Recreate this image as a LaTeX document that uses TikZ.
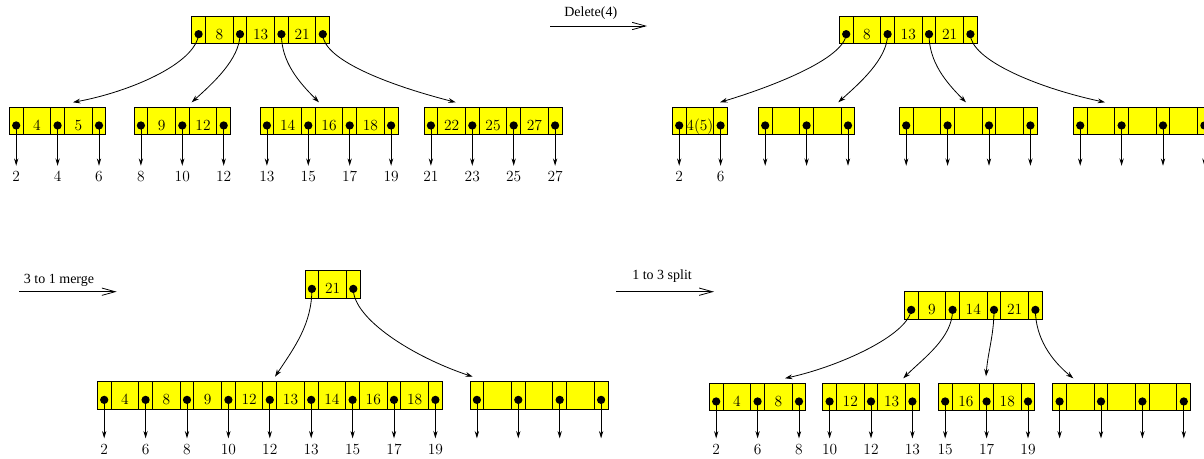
\documentclass[tikz,border=0pt]{standalone}
\usepackage{fontspec}
\newfontfamily\opfont{Liberation Serif}
\usepackage{tikz}
\usetikzlibrary{arrows.meta,positioning,calc}
\definecolor{bpyellow}{RGB}{255,255,0}
\def\ptrw{10.35pt}
\def\keyw{20.7pt}
\def\blank{}
\newcommand{\keyfont}{\fontsize{11.6}{13}\selectfont}
\tikzset{
  frame/.style={anchor=north west, inner sep=0pt, outer sep=0pt, minimum height=20.5pt},
  ptrcell/.style={draw, fill=bpyellow, line width=0.7pt, inner sep=0pt, outer sep=0pt, minimum width=\ptrw, minimum height=20.5pt},
  keycell/.style={ptrcell, minimum width=\keyw, font=\keyfont, text height=14.2pt, text depth=0pt},
  treearrow/.style={-{Stealth[length=5.5pt,width=3.6pt]}, line width=0.6pt},
  ptrarrow/.style={-{Stealth[length=5.5pt,width=3.2pt]}, line width=0.6pt},
  oparrow/.style={-{Straight Barb[length=10pt,width=5.5pt]}, line width=0.6pt},
  oplabel/.style={font=\opfont\fontsize{10.5}{12}\selectfont, inner sep=0pt, text depth=0pt},
  leaflabel/.style={anchor=north, inner sep=0pt, font=\keyfont}
}
% one B+ tree node: name, top left corner, number of keys, keys
\newcommand{\btnode}[4]{%
  \node[frame, minimum width={(#3+1)*\ptrw+#3*\keyw}] (#1) at #2 {};
  \node[ptrcell, anchor=north west] (#1-p0) at (#1.north west) {};
  \foreach \k [count=\i, remember=\i as \j (initially 0)] in {#4} {
    \node[keycell, right=0pt of #1-p\j] (#1-k\i) {\k};
    \node[ptrcell, right=0pt of #1-k\i] (#1-p\i) {};
  }
  \foreach \i in {0,...,#3}
    \fill ($(#1-p\i.center)+(0,4.5)$) coordinate (#1-d\i) circle (3.1pt);
}
% down pointers of a leaf: name, number of keys, length
\newcommand{\leafptrs}[3]{%
  \foreach \i in {0,...,#2} {
    \coordinate (#1-e\i) at ($(#1-d\i)+(0,#3)$);
    \draw[ptrarrow] (#1-d\i) -- (#1-e\i);
  }
}
\newcommand{\leaflabels}[2]{%
  \foreach \v [count=\i from 0] in {#2}
    \node[leaflabel] (#1-v\i) at ($(#1-e\i)+(0,5.5)$) {\v};
}
\begin{document}
\begin{tikzpicture}[x=0.75pt, y=-0.75pt]
  \useasboundingbox (0,0) rectangle (1204,458);
  % Before
  \btnode{ra}{(191.7,16)}{3}{8,13,21}
  \btnode{la}{(9.3,107.3)}{2}{4,5}
  \btnode{lb}{(134,107.3)}{2}{9,12}
  \btnode{lc}{(260,107.3)}{3}{14,16,18}
  \btnode{ld}{(424,107.3)}{3}{22,25,27}
  \leafptrs{la}{2}{40.3} \leaflabels{la}{2,4,6}
  \leafptrs{lb}{2}{40.3} \leaflabels{lb}{8,10,12}
  \leafptrs{lc}{3}{40.3} \leaflabels{lc}{13,15,17,19}
  \leafptrs{ld}{3}{40.3} \leaflabels{ld}{21,23,25,27}
  \draw[treearrow] (ra-d0) .. controls +(-3,30) and +(55,-10) .. ($(la.north west)+(63.7,-5)$);
  \draw[treearrow] (ra-d1) .. controls +(0,25) and +(20,-18) .. ($(lb.north west)+(57.7,-5)$);
  \draw[treearrow] (ra-d2) .. controls +(0,28) and +(-20,-20) .. ($(lc.north west)+(59,-5)$);
  \draw[treearrow] (ra-d3) .. controls +(0,25) and +(-70,-18) .. ($(ld.north west)+(31.7,-5)$);
  % Delete(4)
  \coordinate (delA) at (550,26);
  \coordinate (delB) at (647,26);
  \draw[oparrow] (delA) -- node[oplabel, above=7pt, pos=0.42] {Delete(4)} (delB);
  % After delete
  \btnode{rb}{(839.3,16)}{3}{8,13,21}
  \btnode{le}{(672.3,107.3)}{1}{4(5)}
  \btnode{lf}{(758.3,107.3)}{2}{\blank,\blank}
  \btnode{lg}{(899.3,107.3)}{3}{\blank,\blank,\blank}
  \btnode{lh}{(1073.3,107.3)}{3}{\blank,\blank,\blank}
  \leafptrs{le}{1}{40.3} \leaflabels{le}{2,6}
  \leafptrs{lf}{2}{40.3}
  \leafptrs{lg}{3}{40.3}
  \leafptrs{lh}{3}{40.3}
  \draw[treearrow] (rb-d0) .. controls +(-2,25) and +(50,-15) .. ($(le.north west)+(47.7,-5)$);
  \draw[treearrow] (rb-d1) .. controls +(0,25) and +(20,-18) .. ($(lf.north west)+(80,-5)$);
  \draw[treearrow] (rb-d2) .. controls +(0,28) and +(-20,-20) .. ($(lg.north west)+(66.7,-5)$);
  \draw[treearrow] (rb-d3) .. controls +(0,25) and +(-70,-15) .. ($(lh.north west)+(31.7,-5)$);
  % 3 to 1 merge
  \coordinate (mrgA) at (19,291.7);
  \coordinate (mrgB) at (116.7,291.7);
  \draw[oparrow] (mrgA) -- node[oplabel, above=5.5pt, pos=0.41] {3 to 1 merge} (mrgB);
  \btnode{rc}{(305,270.7)}{1}{21}
  \btnode{li}{(97.3,381.7)}{8}{4,8,9,12,13,14,16,18}
  \btnode{lj}{(470,381.7)}{3}{\blank,\blank,\blank}
  \leafptrs{li}{8}{38.5} \leaflabels{li}{2,6,8,10,12,13,15,17,19}
  \leafptrs{lj}{3}{38.5}
  \draw[treearrow] (rc-d0) .. controls +(0,35) and +(20,-30) .. ($(li.north west)+(177.7,-5)$);
  \draw[treearrow] (rc-d1) .. controls +(0,30) and +(-60,-20) .. ($(lj.north west)+(2.7,-5)$);
  % 1 to 3 split
  \coordinate (splA) at (616,291.7);
  \coordinate (splB) at (714,291.7);
  \draw[oparrow] (splA) -- node[oplabel, above=8.8pt, pos=0.47] {1 to 3 split} (splB);
  \btnode{rd}{(904.3,291.7)}{3}{9,14,21}
  \btnode{lk}{(709.3,383.3)}{2}{4,8}
  \btnode{ll}{(822.7,383.3)}{2}{12,13}
  \btnode{lm}{(938.3,383.3)}{2}{16,18}
  \btnode{ln}{(1052.7,383.3)}{3}{\blank,\blank,\blank}
  \leafptrs{lk}{2}{37} \leaflabels{lk}{2,6,8}
  \leafptrs{ll}{2}{37} \leaflabels{ll}{10,12,13}
  \leafptrs{lm}{2}{37} \leaflabels{lm}{15,17,19}
  \leafptrs{ln}{3}{37}
  \draw[treearrow] (rd-d0) .. controls +(-3,25) and +(55,-12) .. ($(lk.north west)+(75.7,-5)$);
  \draw[treearrow] (rd-d1) .. controls +(0,28) and +(20,-20) .. ($(ll.north west)+(80.6,-5)$);
  \draw[treearrow] (rd-d2) .. controls +(0,25) and +(2,-25) .. ($(lm.north west)+(47.7,-7)$);
  \draw[treearrow] (rd-d3) .. controls +(0,28) and +(-22,-18) .. ($(ln.north west)+(20.6,-5)$);
\end{tikzpicture}
\end{document}
